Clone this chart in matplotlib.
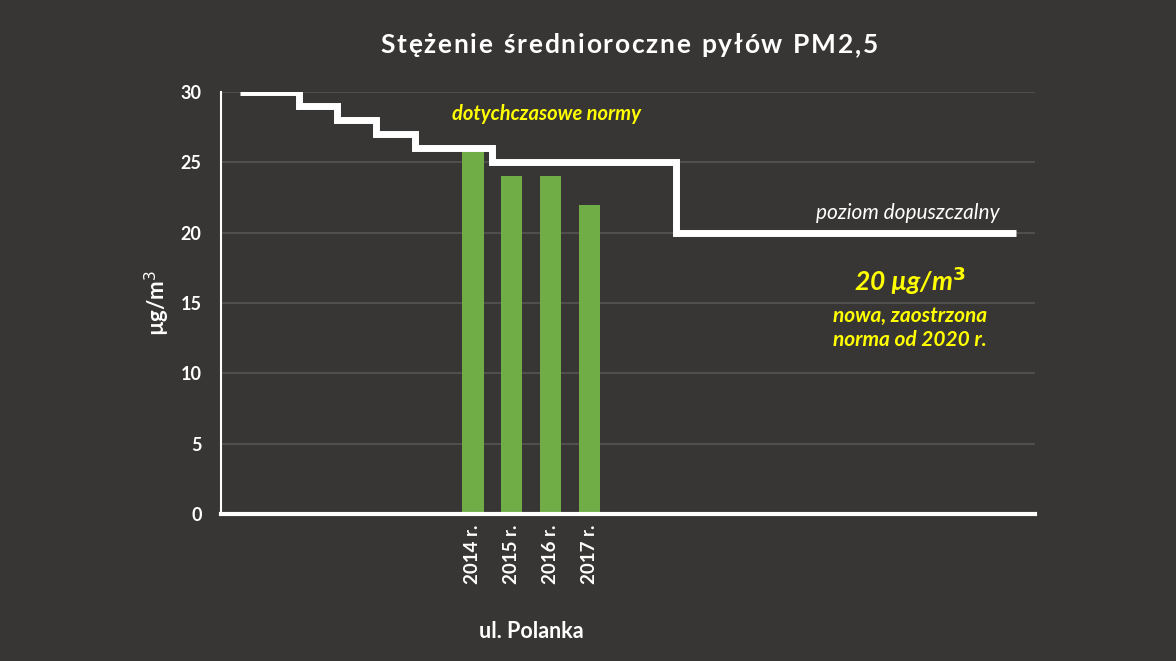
import numpy as np
import matplotlib
matplotlib.use("Agg")
import matplotlib.pyplot as plt
import matplotlib.transforms as mtransforms

plt.rcParams["font.family"] = ["Lato", "DejaVu Sans"]

BG = "#383635"
C_BAR = "#70ad47"
C_YEL = "#ffff00"

# norm levels (step line) and where they change, in years
limit_levels = [30, 29, 28, 27, 26, 25, 20]
limit_edges = [2008, 2009.5, 2010.5, 2011.5, 2012.5, 2014.5, 2019.25, 2028]
bar_years = [2014, 2015, 2016, 2017]
bar_vals = [26, 24, 24, 22]
yticks = [0, 5, 10, 15, 20, 25, 30]
TITLE = "Stężenie średnioroczne pyłów PM2,5"

fig = plt.figure(figsize=(11.76, 6.61), dpi=100, facecolor=BG)
ax = fig.add_axes([221 / 1176, 1 - 514 / 661, 814 / 1176, 422 / 661], facecolor=BG)

ax.bar(bar_years, bar_vals, width=0.55, color=C_BAR, zorder=2)
ax.stairs(limit_levels, limit_edges, baseline=None, color="white", lw=5, zorder=3,
          capstyle="butt", joinstyle="miter")

ax.set_xlim(2007.5, 2028.5)
ax.set_ylim(0, 30)
ax.set_yticks(yticks)
ax.set_yticklabels([str(v) for v in yticks], color="white", fontweight="bold", fontsize=13)
ax.set_xticks(bar_years)
ax.set_xticklabels([f"{y} r." for y in bar_years], rotation=90, color="white",
                   fontweight="bold", fontsize=13.5)
ax.tick_params(axis="y", length=0, pad=14)
ax.tick_params(axis="x", length=0, pad=8)
ax.grid(axis="y", color="#575553", lw=1.2, zorder=0)
ax.set_axisbelow(True)
for s in ["top", "right"]:
    ax.spines[s].set_visible(False)
ax.spines["left"].set_color("white")
ax.spines["left"].set_linewidth(1.5)
ax.spines["bottom"].set_color("white")
ax.spines["bottom"].set_linewidth(3)

ax.set_ylabel("µg/m$^3$", color="white", fontweight="bold", fontsize=16, labelpad=6)
tr = mtransforms.blended_transform_factory(ax.transData, fig.transFigure)
ax.text(np.mean(bar_years), 1 - 632 / 661, "ul. Polanka", transform=tr, color="white",
        fontweight="bold", fontsize=15.5, ha="center", va="center")

# letter-spaced title, spread over ~498 px
renderer = fig.canvas.get_renderer()
kw = dict(color="white", fontweight="bold", fontsize=19, va="center", ha="left")
widths = []
for ch in TITLE:
    t = fig.text(0, 0, ch if ch != " " else "n", **kw)
    widths.append(t.get_window_extent(renderer).width * (0.5 if ch == " " else 1.0))
    t.remove()
spacing = (498 - sum(widths)) / (len(TITLE) - 1)
xpos = 629 - 498 / 2
for ch, w in zip(TITLE, widths):
    if ch != " ":
        fig.text(xpos / 1176, 1 - 45 / 661, ch, **kw)
    xpos += w + spacing

fig.text(546 / 1176, 1 - 114 / 661, "dotychczasowe normy", color=C_YEL,
         fontweight="bold", style="italic", fontsize=14.5, ha="center", va="center")
fig.text(908 / 1176, 1 - 213 / 661, "poziom dopuszczalny", color="white",
         style="italic", fontsize=15, ha="center", va="center")
fig.text(910 / 1176, 1 - 281 / 661, "20 µg/m$^\\mathbf{3}$", color=C_YEL,
         fontweight="bold", style="italic", fontsize=19, ha="center", va="center")
fig.text(910 / 1176, 1 - 316 / 661, "nowa, zaostrzona", color=C_YEL,
         fontweight="bold", style="italic", fontsize=15, ha="center", va="center")
fig.text(910 / 1176, 1 - 340 / 661, "norma od 2020 r.", color=C_YEL,
         fontweight="bold", style="italic", fontsize=15, ha="center", va="center")

fig.savefig("out.png", dpi=100, facecolor=BG)
